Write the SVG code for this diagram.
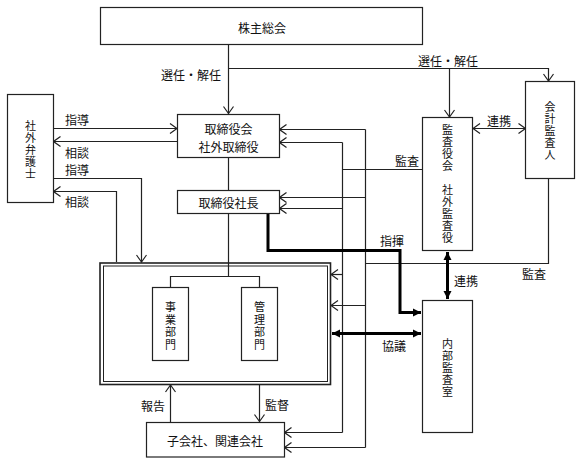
<svg xmlns="http://www.w3.org/2000/svg" width="581" height="464" viewBox="0 0 581 464">
<style>
.t{font-family:"Noto Sans CJK JP","Noto Sans",sans-serif;font-size:12px;fill:#111;dominant-baseline:central}
.m{text-anchor:middle}
.v{font-family:"Noto Sans CJK JP","Noto Sans",sans-serif;font-size:11px;fill:#111;dominant-baseline:central;text-anchor:middle}
.box{fill:#fff;stroke:#222;stroke-width:1.2}
.ln{fill:none;stroke:#222;stroke-width:1.2}
.ar{fill:none;stroke:#222;stroke-width:1.2;marker-end:url(#open)}
.ar2{fill:none;stroke:#222;stroke-width:1.2;marker-end:url(#open);marker-start:url(#open)}
.th{fill:none;stroke:#000;stroke-width:3;marker-end:url(#solid)}
.th2{fill:none;stroke:#000;stroke-width:3;marker-end:url(#solid);marker-start:url(#solid)}
</style>
<defs>
<marker id="open" viewBox="-9 -7 10 14" refX="0" refY="0" markerWidth="10" markerHeight="14" markerUnits="userSpaceOnUse" orient="auto-start-reverse">
<path d="M-7,-5 L0,0 L-7,5" fill="none" stroke="#222" stroke-width="1.2"/>
</marker>
<marker id="solid" viewBox="-9 -5 10 10" refX="0" refY="0" markerWidth="10" markerHeight="10" markerUnits="userSpaceOnUse" orient="auto-start-reverse">
<path d="M-8,-4 L0,0 L-8,4 Z" fill="#000"/>
</marker>
</defs>
<rect width="581" height="464" fill="#fff"/>

<g id="connectors">
<path class="ar" d="M228.5,45 V113.5"/>
<path class="ar" d="M228.5,68.5 H548.5 V81"/>
<path class="ar" d="M449.5,68.5 V117"/>
<path class="ar" d="M53,128.5 H177"/>
<path class="ar" d="M177,141.5 H53.5"/>
<path class="ar" d="M53,178.5 H141.5 V262"/>
<path class="ar" d="M116.5,262 V191.5 H53.5"/>
<path class="ln" d="M228.5,157 V190"/>
<path class="ln" d="M228.5,213 V276.5"/>
<path class="ln" d="M170.5,287 V276.5 H259.5 V287"/>
<path class="ln" d="M422,169.5 H342.5"/>
<path class="ln" d="M342.5,142.5 V432.5"/>
<path class="ln" d="M365.5,129.5 V447.5"/>
<path class="ln" d="M548.5,178 V263.5 H365.5"/>
<path class="ar" d="M365.5,129.5 H279.5"/>
<path class="ar" d="M342.5,142.5 H279.5"/>
<path class="ar" d="M365.5,197.5 H279.5"/>
<path class="ar" d="M342.5,208.5 H279.5"/>
<path class="ar" d="M342.5,274.5 H331"/>
<path class="ar" d="M365.5,305.5 H331"/>
<path class="ar" d="M342.5,432.5 H284.5"/>
<path class="ar" d="M365.5,447.5 H284.5"/>
<path class="ar2" d="M473,128.5 H525.5"/>
<path class="ar" d="M170.5,422 V385"/>
<path class="ar" d="M259.5,384.5 V421.5"/>
<path class="th" d="M268,213 V250.5 H400 V312.5 H421"/>
<path class="th2" d="M447.5,252 V299"/>
<path class="th2" d="M332,333.5 H421"/>
</g>

<g id="shareholders">
<rect class="box" x="100.5" y="7.5" width="322" height="37"/>
<text class="t m" x="262" y="27">株主総会</text>
</g>

<g id="lawyer">
<rect class="box" x="7.5" y="94.5" width="46" height="108"/>
<text class="v" x="30.5" y="125">社</text><text class="v" x="30.5" y="137">外</text><text class="v" x="30.5" y="149">弁</text><text class="v" x="30.5" y="161">護</text><text class="v" x="30.5" y="173">士</text>
</g>

<g id="board">
<rect class="box" x="177.5" y="114.5" width="102" height="43"/>
<text class="t m" x="228.5" y="128">取締役会</text>
<text class="t m" x="228.5" y="146">社外取締役</text>
</g>

<g id="president">
<rect class="box" x="177.5" y="190.5" width="102" height="23"/>
<text class="t m" x="228.5" y="202">取締役社長</text>
</g>

<g id="company">
<rect fill="#fff" stroke="#222" stroke-width="1.6" x="100" y="263" width="230.5" height="121.5"/>
<rect fill="none" stroke="#222" stroke-width="1" x="103.5" y="266" width="224" height="115.5"/>
<path class="ln" d="M228.5,263 V276.5"/>
<path class="ln" d="M170.5,287 V276.5 H259.5 V287"/>
</g>

<g id="business">
<rect class="box" x="152.5" y="287.5" width="36" height="73"/>
<text class="v" x="170.5" y="306">事</text><text class="v" x="170.5" y="318.5">業</text><text class="v" x="170.5" y="331">部</text><text class="v" x="170.5" y="343.5">門</text>
</g>

<g id="admin">
<rect class="box" x="241.5" y="287.5" width="36" height="73"/>
<text class="v" x="259.5" y="306">管</text><text class="v" x="259.5" y="318.5">理</text><text class="v" x="259.5" y="331">部</text><text class="v" x="259.5" y="343.5">門</text>
</g>

<g id="kansayakukai">
<rect class="box" x="422.5" y="117.5" width="50" height="133"/>
<text class="v" x="447.5" y="129">監</text><text class="v" x="447.5" y="141">査</text><text class="v" x="447.5" y="153">役</text><text class="v" x="447.5" y="165">会</text>
<text class="v" x="447.5" y="189">社</text><text class="v" x="447.5" y="201">外</text><text class="v" x="447.5" y="213">監</text><text class="v" x="447.5" y="225">査</text><text class="v" x="447.5" y="237">役</text>
</g>

<g id="auditor">
<rect class="box" x="525.5" y="81.5" width="49" height="97"/>
<text class="v" x="550" y="106">会</text><text class="v" x="550" y="118">計</text><text class="v" x="550" y="130">監</text><text class="v" x="550" y="142">査</text><text class="v" x="550" y="154">人</text>
</g>

<g id="internal-audit">
<rect class="box" x="422.5" y="300.5" width="50" height="132"/>
<text class="v" x="447.5" y="343">内</text><text class="v" x="447.5" y="355">部</text><text class="v" x="447.5" y="367">監</text><text class="v" x="447.5" y="379">査</text><text class="v" x="447.5" y="391">室</text>
</g>

<g id="subsidiaries">
<rect class="box" x="146.5" y="422.5" width="138" height="34.5"/>
<text class="t m" x="215" y="440">子会社、関連会社</text>
</g>

<g id="labels">
<text class="t" x="221" y="74" text-anchor="end">選任・解任</text>
<text class="t" x="418" y="60">選任・解任</text>
<text class="t" x="65" y="119">指導</text>
<text class="t" x="65" y="152">相談</text>
<text class="t" x="65" y="169">指導</text>
<text class="t" x="65" y="201">相談</text>
<text class="t" x="395" y="160">監査</text>
<text class="t" x="487" y="120">連携</text>
<text class="t" x="380" y="240">指揮</text>
<text class="t" x="522" y="273">監査</text>
<text class="t" x="454" y="280">連携</text>
<text class="t" x="382" y="345">協議</text>
<text class="t" x="141" y="405">報告</text>
<text class="t" x="265" y="404">監督</text>
</g>
</svg>
